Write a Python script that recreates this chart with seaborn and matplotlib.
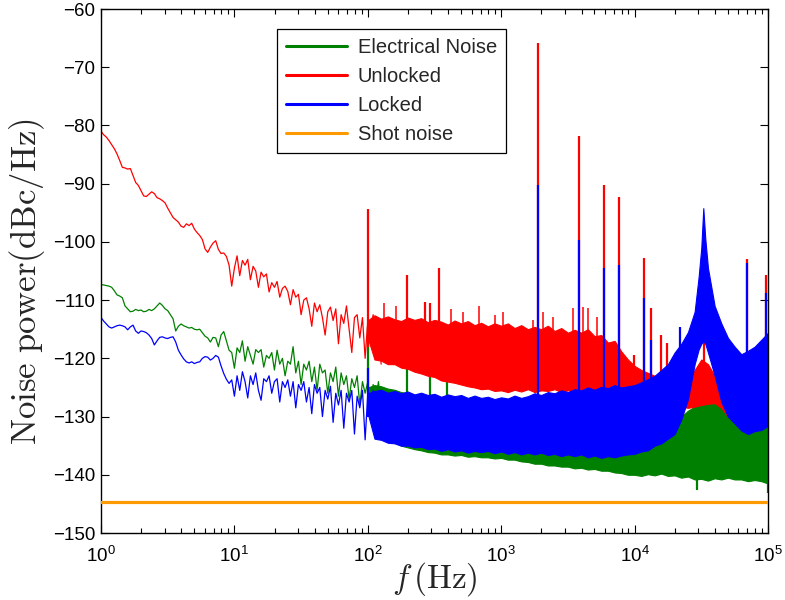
import numpy as np
import pandas as pd
import matplotlib
matplotlib.use("Agg")
import matplotlib.pyplot as plt
from matplotlib.lines import Line2D
import seaborn as sns

# ---------------- data ----------------
# low-frequency traces: log10(frequency) grid 0.00 .. 2.10 in 0.02 steps
trace_logf = np.round(np.arange(0.0, 2.1001, 0.02), 2)

red_trace = [
    -81.0, -81.6, -82.0, -82.6, -83.3, -84.0, -84.9, -86.0, -87.2, -87.3,
    -87.5, -87.4, -88.6, -89.8, -90.3, -91.2, -92.1, -92.2, -91.8, -91.4,
    -91.7, -92.4, -92.6, -92.9, -93.3, -94.2, -95.0, -95.8, -96.2, -96.6,
    -97.3, -97.5, -96.9, -97.2, -96.8, -97.8, -98.4, -98.9, -99.6, -101.2,
    -101.8, -100.9, -100.2, -99.8, -101.3, -102.0, -101.9, -102.5, -104.0, -107.6,
    -104.5, -102.4, -105.8, -103.2, -104.0, -103.0, -106.5, -104.2, -105.0, -107.8,
    -105.2, -106.0, -105.5, -108.6, -107.0, -107.8, -106.8, -109.5, -108.0, -107.6,
    -108.5, -110.8, -108.2, -109.5, -109.0, -112.5, -110.0, -109.6, -111.5, -114.5,
    -110.5, -112.0, -110.8, -113.0, -116.0, -112.0, -111.2, -113.5, -111.5, -117.5,
    -112.5, -114.0, -111.0, -115.0, -119.0, -113.0, -112.5, -116.5, -113.0, -120.0,
    -113.5, -115.5, -112.5, -118.0, -114.0, -121.0,
]

blue_trace = [
    -113.0, -113.6, -114.1, -114.6, -114.8, -114.6, -114.4, -114.3, -114.4, -114.6,
    -115.1, -114.6, -114.3, -115.3, -115.7, -115.3, -115.4, -115.6, -116.0, -116.6,
    -117.7, -117.0, -116.4, -116.3, -116.5, -116.6, -116.4, -116.3, -117.2, -118.6,
    -119.4, -120.1, -120.6, -120.8, -120.6, -120.9, -120.7, -120.6, -120.0, -119.7,
    -119.8, -120.3, -120.0, -119.5, -119.8, -121.3, -122.6, -123.6, -124.3, -123.7,
    -126.5, -123.0, -125.5, -122.3, -124.0, -126.8, -123.0, -124.5, -122.5, -125.5,
    -127.2, -123.5, -124.0, -123.0, -126.0, -124.0, -123.5, -127.5, -124.0, -125.0,
    -123.7, -126.5, -124.0, -128.5, -124.5, -125.5, -124.0, -127.5, -125.0, -129.5,
    -124.5, -126.0, -125.0, -130.0, -125.5, -127.0, -124.8, -131.0, -126.0, -128.0,
    -125.5, -132.0, -126.0, -127.5, -125.5, -133.0, -126.5, -128.5, -125.5, -134.0,
    -126.0, -129.0, -125.5, -133.0, -126.5, -130.0,
]

green_trace = [
    -107.3, -107.4, -107.5, -107.6, -107.8, -108.4, -109.1, -109.3, -109.6, -111.0,
    -111.5, -112.0, -111.9, -111.6, -111.8, -111.7, -112.0, -111.9, -111.6, -111.8,
    -111.5, -111.0, -110.5, -110.9, -111.5, -111.8, -112.5, -113.2, -115.3, -114.5,
    -114.1, -114.4, -114.6, -114.8, -114.7, -115.0, -115.1, -115.0, -115.6, -116.2,
    -116.5, -117.2, -116.4, -116.5, -118.0, -116.0, -115.4, -117.0, -118.6, -119.0,
    -121.7, -118.2, -119.0, -117.0, -120.5, -118.0, -119.5, -121.0, -118.5, -119.0,
    -118.5, -121.5, -119.5, -120.0, -119.0, -122.0, -118.6, -121.0, -120.0, -123.0,
    -120.5, -121.0, -118.0, -122.5, -120.5, -124.5, -121.0, -122.0, -120.5, -124.0,
    -121.5, -125.5, -121.0, -122.5, -122.0, -126.0, -122.5, -124.0, -121.5, -126.5,
    -122.5, -124.5, -123.0, -127.0, -123.5, -125.0, -123.0, -128.0, -124.0, -126.0,
    -124.0, -128.5, -124.5, -127.0, -124.0, -129.0,
]

# dense high-frequency bands: log10(f) grid 2.00 .. 5.00 in 0.05 steps,
# upper and lower edges of each noise band (dBc/Hz)
band_logf = np.round(np.arange(2.0, 5.0001, 0.05), 2)

red_band_hi = [
    -113.5, -112.6, -113.2, -112.8, -113.3, -113.6, -113.0, -113.4, -113.1, -113.8,
    -113.4, -113.7, -114.2, -113.5, -114.0, -113.6, -114.3, -113.9, -114.5, -114.0,
    -114.4, -114.0, -114.8, -114.3, -115.0, -114.6, -115.0, -114.4, -115.3, -114.8,
    -115.6, -115.1, -115.6, -115.0, -116.2, -116.0, -117.3, -117.0, -118.8, -120.2,
    -121.3, -122.0, -122.5, -123.0, -123.2, -123.5, -124.0, -124.0, -123.5, -122.0,
    -120.2, -121.0, -123.0, -125.8, -126.8, -125.5, -122.5, -119.3, -118.5, -117.3,
    -116.5,
]
red_band_lo = [
    -116.5, -120.2, -120.4, -121.0, -121.0, -121.6, -121.8, -122.3, -122.6, -123.0,
    -123.2, -123.8, -124.0, -124.2, -124.5, -124.8, -125.0, -125.3, -125.2, -125.6,
    -125.5, -125.8, -125.4, -125.7, -125.3, -125.8, -125.5, -125.6, -125.3, -125.8,
    -125.5, -125.7, -125.4, -125.9, -125.5, -125.8, -126.0, -125.7, -126.0, -126.4,
    -126.2, -126.8, -127.0, -127.4, -127.5, -127.9, -128.0, -128.3, -128.5, -128.3,
    -128.0, -127.8, -127.7, -128.5, -130.0, -131.0, -131.0, -131.0, -131.0, -130.5,
    -130.5,
]

blue_band_hi = [
    -126.0, -125.6, -125.4, -125.9, -125.6, -126.0, -125.7, -126.2, -125.9, -126.3,
    -126.1, -126.6, -126.2, -126.5, -126.3, -126.8, -126.4, -126.8, -126.6, -127.0,
    -126.7, -126.9, -126.4, -126.8, -126.5, -126.0, -126.3, -125.8, -126.0, -125.5,
    -125.8, -125.3, -125.5, -125.0, -125.4, -124.9, -125.1, -124.6, -125.0, -124.8,
    -124.6, -124.1, -123.6, -123.0, -122.0, -121.0, -119.0, -117.5, -115.5, -112.0,
    -101.0, -104.5, -111.0, -114.0, -116.5, -118.0, -119.3, -118.7, -118.0, -116.8,
    -115.6,
]
blue_band_lo = [
    -129.5, -133.8, -134.0, -134.5, -134.6, -135.0, -135.0, -135.3, -135.2, -135.6,
    -135.5, -135.9, -135.6, -136.0, -135.8, -136.2, -135.9, -136.1, -135.9, -136.3,
    -136.0, -136.4, -136.1, -136.5, -136.2, -136.5, -136.2, -136.6, -136.4, -136.8,
    -136.5, -136.8, -136.5, -137.0, -136.7, -137.1, -136.8, -137.0, -136.7, -136.5,
    -136.4, -136.0, -135.8, -135.0, -134.6, -133.8, -133.0, -130.5, -127.0, -121.0,
    -117.5, -119.0, -123.0, -127.5, -130.0, -131.2, -132.4, -133.0, -132.5, -132.3,
    -131.6,
]
# finer points resolving the narrow locking resonance near 33 kHz
peak_logf = [4.45, 4.48, 4.50, 4.515, 4.53, 4.55]
peak_hi = [-112.0, -106.0, -101.0, -94.2, -99.5, -104.5]
peak_lo = [-121.0, -118.5, -117.5, -117.0, -117.5, -119.0]

green_band_hi = [
    -125.0, -124.6, -124.8, -125.2, -125.4, -125.8, -126.0, -126.3, -126.4, -126.7,
    -126.8, -127.0, -127.0, -127.3, -127.3, -127.5, -127.5, -127.8, -127.8, -128.0,
    -128.1, -128.3, -128.4, -128.6, -128.7, -129.0, -129.1, -129.4, -129.6, -129.9,
    -130.1, -130.4, -130.6, -130.9, -131.1, -131.4, -131.8, -132.3, -132.9, -133.5,
    -134.0, -133.9, -133.5, -133.0, -132.5, -131.9, -131.0, -130.0, -129.0, -128.3,
    -128.0, -127.8, -127.7, -128.5, -130.0, -131.0, -131.5, -131.2, -131.0, -130.5,
    -130.0,
]
green_band_lo = [
    -128.5, -132.5, -133.3, -134.0, -134.5, -135.0, -135.3, -135.6, -135.8, -136.1,
    -136.2, -136.5, -136.5, -136.7, -136.6, -136.9, -136.8, -137.0, -137.0, -137.2,
    -137.1, -137.4, -137.4, -137.7, -137.8, -138.1, -138.1, -138.4, -138.4, -138.6,
    -138.6, -138.9, -138.8, -139.1, -139.0, -139.3, -139.3, -139.6, -139.7, -140.0,
    -140.0, -140.2, -139.9, -140.1, -139.8, -140.2, -140.1, -140.5, -140.3, -140.8,
    -140.7, -141.0, -140.6, -140.8, -140.5, -140.8, -140.8, -141.1, -140.9, -141.1,
    -141.5,
]

# narrow spectral lines: log10(f), top and foot (dBc/Hz)
red_spike_logf = [2.0, 2.294, 2.43, 2.47, 2.536, 3.278, 3.583, 3.768, 3.88,
                  3.996, 4.068, 4.123, 4.195, 4.24, 4.52, 4.84, 4.985]
red_spike_top = [-94.3, -105.7, -110.4, -110.5, -104.4, -65.9, -81.8, -90.2,
                 -92.3, -119.4, -102.7, -111.4, -116.0, -117.4, -114.0,
                 -102.9, -105.7]
red_spike_foot = [-118.0, -118.0, -118.0, -118.0, -118.0, -120.0, -120.0,
                  -120.0, -120.0, -123.0, -123.0, -124.0, -125.0, -125.0,
                  -124.0, -125.0, -120.0]
# small noise excursions above the unlocked band
red_fuzz_logf = [2.12, 2.21, 2.62, 2.71, 2.83, 2.95, 3.01, 3.24, 3.31, 3.39,
                 3.54, 3.61, 3.65, 3.72]
red_fuzz_top = [-110.5, -111.0, -111.5, -112.0, -111.0, -112.5, -112.0, -113.4,
                -112.0, -112.9, -111.4, -111.2, -111.4, -112.9]

blue_spike_logf = [2.0, 3.278, 3.583, 3.768, 3.88, 4.068, 4.123, 4.34, 4.84, 4.985]
blue_spike_top = [-121.7, -90.2, -99.7, -104.4, -104.0, -109.7, -116.9, -114.6,
                  -103.7, -108.8]
blue_spike_foot = [-130.0, -130.0, -130.0, -130.0, -130.0, -130.0, -130.0,
                   -128.0, -125.0, -125.0]

green_spike_logf = [2.0, 2.294, 2.47, 2.59, 4.47, 5.0]
green_spike_top = [-114.6, -118.2, -119.8, -121.4, -135.0, -135.0]
green_spike_foot = [-126.0, -130.0, -130.0, -131.0, -142.6, -143.1]

shot_f = [1.0, 1.0e5]
shot_db = [-144.6, -144.6]

x_ticks = [1e0, 1e1, 1e2, 1e3, 1e4, 1e5]
x_tick_labels = [r"$10^{0}$", r"$10^{1}$", r"$10^{2}$", r"$10^{3}$", r"$10^{4}$", r"$10^{5}$"]
y_ticks = [-150, -140, -130, -120, -110, -100, -90, -80, -70, -60]

series_names = ["Electrical Noise", "Unlocked", "Locked", "Shot noise"]
c_green = "#008000"
c_red = "#FF0000"
c_blue = "#0000FF"
c_orange = "#FF9900"
series_colors = [c_green, c_red, c_blue, c_orange]

# ---------------- drawing ----------------
sns.set_theme(style="white")
plt.rcParams["font.family"] = ["Liberation Sans", "DejaVu Sans"]
plt.rcParams["mathtext.default"] = "regular"
plt.rcParams["axes.unicode_minus"] = True

fig = plt.figure(figsize=(7.85, 6.0), dpi=100)
ax = fig.add_axes([101 / 785, 1 - 533 / 600, 667 / 785, 524 / 600])
ax.set_xscale("log")

trace_f = 10 ** trace_logf


def band_xy(logf, hi, lo, skip=None, extra=None):
    lf, h, l = [], [], []
    for v, a, b in zip(logf, hi, lo):
        if skip is not None and skip[0] < v < skip[1]:
            continue
        lf.append(v)
        h.append(a)
        l.append(b)
    if extra is not None:
        lf += list(extra[0])
        h += list(extra[1])
        l += list(extra[2])
    o = np.argsort(lf, kind="stable")
    return 10 ** np.asarray(lf)[o], np.asarray(h)[o], np.asarray(l)[o]


def draw_series(trace, bands, sp_logf, sp_top, sp_foot, color):
    bf, bh, bl = bands
    ax.fill_between(bf, bl, bh, color=color, lw=0.8, zorder=2)
    df = pd.DataFrame({"f": trace_f, "db": trace})
    sns.lineplot(data=df, x="f", y="db", ax=ax, color=color, lw=0.9,
                 sort=False, estimator=None, zorder=2)
    ax.vlines(10 ** np.asarray(sp_logf), sp_foot, sp_top, color=color, lw=1.6, zorder=2)


draw_series(green_trace, band_xy(band_logf, green_band_hi, green_band_lo),
            green_spike_logf, green_spike_top, green_spike_foot, c_green)
draw_series(red_trace, band_xy(band_logf, red_band_hi, red_band_lo),
            red_spike_logf, red_spike_top, red_spike_foot, c_red)
ax.vlines(10 ** np.asarray(red_fuzz_logf), -120.0, red_fuzz_top, color=c_red,
          lw=1.1, zorder=2)
draw_series(blue_trace,
            band_xy(band_logf, blue_band_hi, blue_band_lo, skip=(4.44, 4.56),
                    extra=(peak_logf, peak_hi, peak_lo)),
            blue_spike_logf, blue_spike_top, blue_spike_foot, c_blue)
sns.lineplot(x=shot_f, y=shot_db, ax=ax, color=c_orange, lw=2.3, zorder=3)

ax.set_xlim(1, 1e5)
ax.set_ylim(-150, -60)
ax.set_xticks(x_ticks)
ax.set_xticklabels(x_tick_labels)
ax.set_yticks(y_ticks)
ax.xaxis.set_minor_locator(matplotlib.ticker.LogLocator(base=10, subs=np.arange(2, 10)))
ax.xaxis.set_minor_formatter(matplotlib.ticker.NullFormatter())
ax.tick_params(axis="both", which="both", direction="in", top=True, right=True,
               bottom=True, left=True, colors="black", labelsize=13.5)
ax.tick_params(which="major", length=6, width=0.8)
ax.tick_params(axis="x", which="major", pad=9)
ax.tick_params(axis="y", which="major", pad=4)
ax.tick_params(which="minor", length=3.5, width=0.8)
for s in ax.spines.values():
    s.set_visible(True)
    s.set_color("black")
    s.set_linewidth(1.0)
ax.grid(False)

ax.set_ylabel(r"$\mathrm{Noise\ power(dBc/Hz)}$", fontsize=25, math_fontfamily="cm")
ax.yaxis.set_label_coords(-0.081, 0.479)
ax.set_xlabel(r"$\mathit{f}\,\mathrm{(Hz)}$", fontsize=24, math_fontfamily="cm")
ax.xaxis.set_label_coords(0.5, -0.052)

handles = [Line2D([0], [0], color=c, lw=2.2) for c in series_colors]
leg = ax.legend(handles, series_names, loc="upper left",
                bbox_to_anchor=(0.264, 0.962), fontsize=14.5, frameon=True,
                fancybox=False, framealpha=1, edgecolor="black",
                handlelength=3.0, handletextpad=0.55, labelspacing=0.49,
                borderpad=0.45, borderaxespad=0)
leg.get_frame().set_linewidth(0.9)

fig.savefig("out.png", dpi=100)
